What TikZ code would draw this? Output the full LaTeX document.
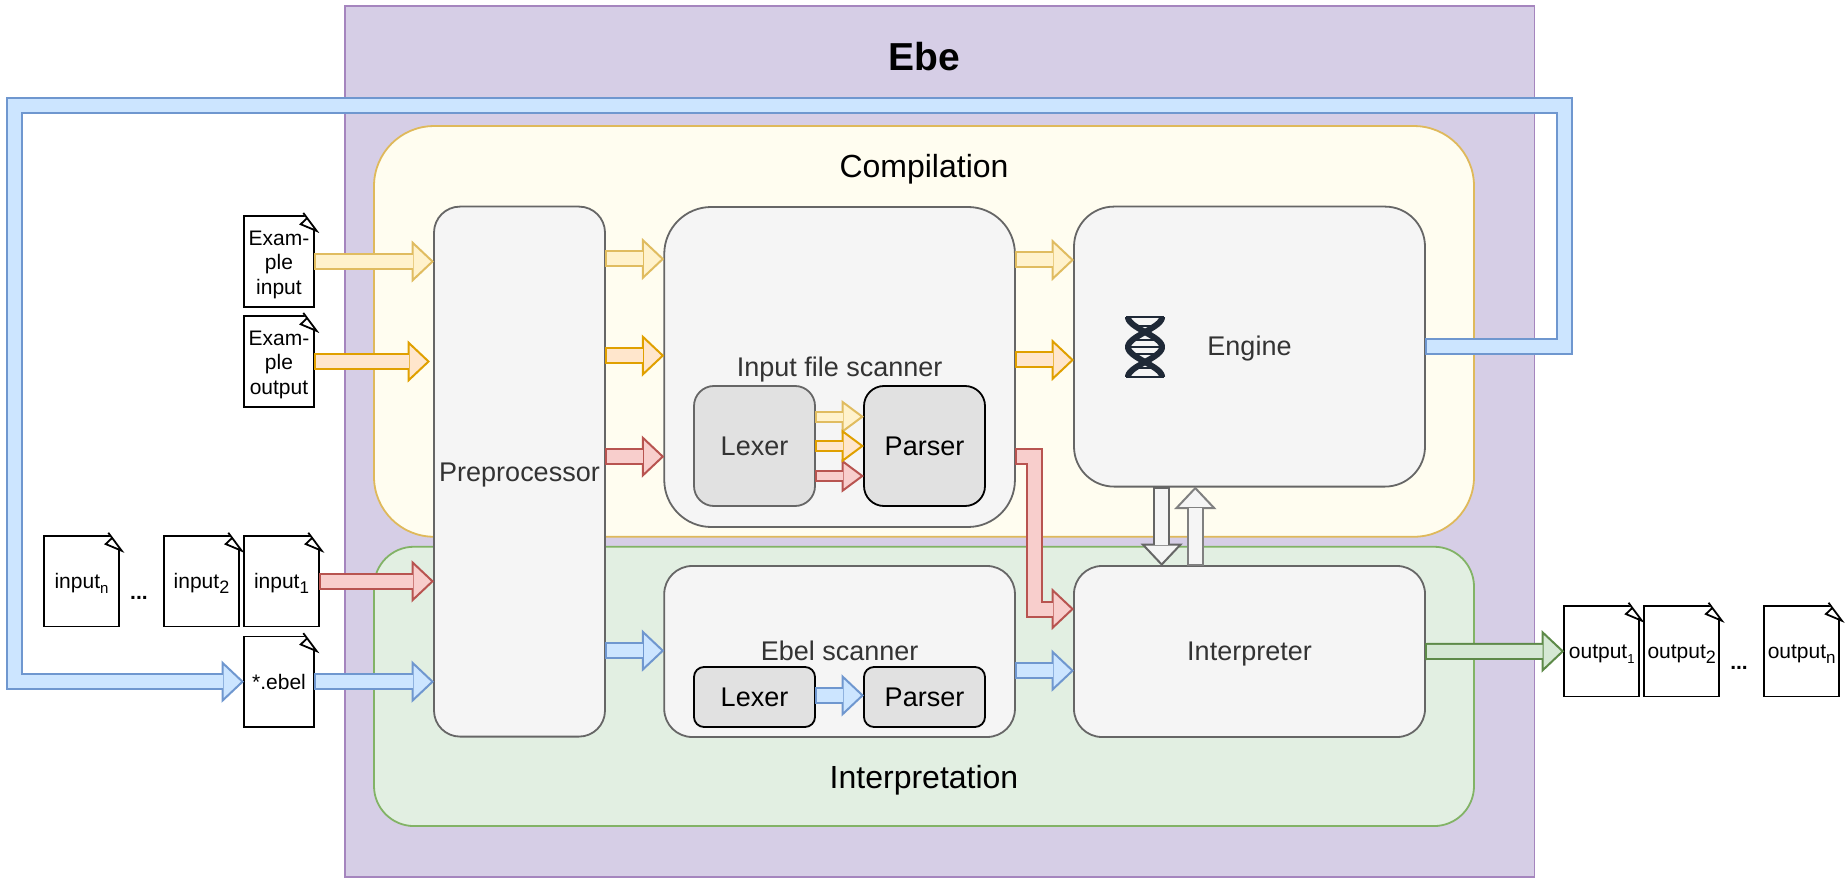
\documentclass[tikz,border=0pt]{standalone}
\usepackage{fontspec}
\setmainfont{Liberation Sans}
\usetikzlibrary{arrows.meta,calc}
\definecolor{fEbe}{HTML}{D6CEE6}
\definecolor{sEbe}{HTML}{A585BE}
\definecolor{fCom}{HTML}{FFFDF0}
\definecolor{sCom}{HTML}{DFB95B}
\definecolor{fInt}{HTML}{E2EFE2}
\definecolor{sInt}{HTML}{82B366}
\definecolor{fBox}{HTML}{F5F5F5}
\definecolor{sBox}{HTML}{666666}
\definecolor{fLex}{HTML}{E1E1E1}
\definecolor{fYel}{HTML}{FFF2CC}
\definecolor{sYel}{HTML}{E0BC60}
\definecolor{fOra}{HTML}{FFE6CC}
\definecolor{sOra}{HTML}{E0A000}
\definecolor{fRed}{HTML}{F8CECC}
\definecolor{sRed}{HTML}{B85450}
\definecolor{fBlu}{HTML}{CCE5FF}
\definecolor{sBlu}{HTML}{6F97CF}
\definecolor{fGre}{HTML}{D5E8D4}
\definecolor{sGre}{HTML}{5D8A48}
\definecolor{cDna}{HTML}{1F2937}
\newcommand{\subtxt}[2]{\smash{\raisebox{-5pt}{\fontsize{#1}{#1}\selectfont #2}}}
\tikzset{
	area/.style={draw, rectangle, line width=1.8pt, inner sep=0pt, outer sep=0pt},
	box/.style={area, draw=sBox, fill=fBox, text=black!80, text height=24pt, text depth=5.2pt, font=\fontsize{27}{32}\selectfont},
	lexbox/.style={box, fill=fLex},
	parsebox/.style={lexbox, draw=black, text=black},
	title/.style={text height=29pt, text depth=6.8pt, inner sep=0pt, font=\fontsize{32}{38}\selectfont},
	ebelabel/.style={inner sep=0pt, font=\fontsize{39}{44}\selectfont\bfseries},
	doc/.style={area, draw=black, fill=white, minimum height=90.5pt, align=center, font=\fontsize{21}{24.2}\selectfont,
		execute at begin node=\rule{0pt}{20pt}, execute at end node=\rule[-5pt]{0pt}{5pt}},
	dots/.style={anchor=base, inner sep=0pt, font=\fontsize{21}{25}\selectfont\bfseries},
	flow/.style 2 args={draw=#2, line width=17pt, -{Triangle[length=22.5pt,width=42pt,line width=2pt,fill=#1]},
		postaction={draw=#1, line width=13pt, -, shorten <=2pt, shorten >=21.5pt}},
	smallflow/.style 2 args={draw=#2, line width=12pt, -{Triangle[length=22.5pt,width=33pt,line width=2pt,fill=#1]},
		postaction={draw=#1, line width=8pt, -, shorten <=2pt, shorten >=21.5pt}},
	fold/.style={draw=black, fill=white, line width=1.8pt}
}
\begin{document}
\begin{tikzpicture}[x=1pt,y=-1pt]
	\useasboundingbox (0,0) rectangle (1845,882);
	% Vung lon
	\node[area, draw=sEbe, fill=fEbe, minimum width=1189.6pt, minimum height=870.6pt] (ebe) at (939.6,441.3) {};
	\node[area, draw=sCom, fill=fCom, minimum width=1100pt, minimum height=410.7pt, rounded corners=60pt] (compile) at (924,331.4) {};
	\node[area, draw=sInt, fill=fInt, minimum width=1100pt, minimum height=279.3pt, rounded corners=40pt] (interpret) at (924,686.4) {};
	\node[ebelabel] (ebetitle) at (924,57) {Ebe};
	\node[title] (comptitle) at (924,166) {Compilation};
	\node[title] (inttitle) at (924,777) {Interpretation};
	% Cac khoi
	\node[box, minimum width=171pt, minimum height=530pt, rounded corners=26pt] (prep) at (519.5,471.6) {Preprocessor};
	\node[box, minimum width=350.7pt, minimum height=320pt, rounded corners=47pt] (ifs) at (839.6,367) {Input file scanner};
	\node[lexbox, minimum width=121pt, minimum height=120pt, rounded corners=20pt] (lexa) at (754.5,446) {Lexer};
	\node[parsebox, minimum width=121pt, minimum height=120pt, rounded corners=20pt] (parsa) at (924.5,446) {Parser};
	\node[box, minimum width=351pt, minimum height=280pt, rounded corners=40pt] (engine) at (1249.5,346.6) {Engine};
	\node[box, minimum width=350.7pt, minimum height=171pt, rounded corners=28pt] (ebel) at (839.6,651.5) {Ebel scanner};
	\node[parsebox, minimum width=121pt, minimum height=60pt, rounded corners=10pt] (lexb) at (754.5,697) {Lexer};
	\node[parsebox, minimum width=121pt, minimum height=60pt, rounded corners=10pt] (parsb) at (924.5,697) {Parser};
	\node[box, minimum width=351pt, minimum height=171pt, rounded corners=28pt] (interp) at (1249.5,651.5) {Interpreter};
	% Tai lieu
	\node[doc, minimum width=70pt] (docin) at (279,261.5) {\rule{0pt}{22pt}Exam-\\ple\\input};
	\node[doc, minimum width=70pt] (docout) at (279,361.5) {\rule{0pt}{22pt}Exam-\\ple\\output};
	\node[doc, minimum width=70pt] (docebel) at (279,681.7) {*.ebel};
	\node[doc, minimum width=75pt] (inputa) at (281.5,581.3) {input\subtxt{17}{1}};
	\node[doc, minimum width=75pt] (inputb) at (201.5,581.3) {input\subtxt{18}{2}};
	\node[doc, minimum width=75pt] (inputn) at (81.5,581.3) {input\subtxt{15}{n}};
	\node[doc, minimum width=75pt] (outputa) at (1601.7,651.3) {output\subtxt{13}{1}};
	\node[doc, minimum width=75pt] (outputb) at (1681.7,651.3) {output\subtxt{18}{2}};
	\node[doc, minimum width=75pt] (outputn) at (1801.7,651.3) {output\subtxt{17}{n}};
	\node[dots] (dotsin) at (139,599) {...};
	\node[dots] (dotsout) at (1739,669) {...};
	\foreach \d in {docin,docout,docebel,inputa,inputb,inputn,outputa,outputb,outputn}
	{
		\fill[white,shift={(\d.north east)}] (-10.7,-2)--(2,-2)--(2,15)--cycle;
		\draw[fold,shift={(\d.north east)}] (-7.3,2.3)--(-13.3,8)--(2.7,14.7)--(-10.7,-3.3);
	}
	% Hinh xoan
	\draw[cDna, line width=6pt, domain=-30:30, samples=80] plot ({1145+17*cos(\x*6)}, 347+\x);
	\draw[cDna, line width=6pt, domain=-30:30, samples=80] plot ({1145-17*cos(\x*6)}, 347+\x);
	\foreach \y/\w in {317/19,326/7,340/12,347/18,354/12,368/7,377/19}
	\draw[cDna, line width=2.5pt] (1145-\w,\y)--(1145+\w,\y);
	% Mui ten vao
	\draw[flow={fYel}{sYel}] (docin.east) -- (docin.east -| prep.west);
	\draw[flow={fOra}{sOra}] (docout.east) -- ($(docout.east -| prep.west)+(-4,0)$);
	\draw[flow={fRed}{sRed}] (inputa.east) -- (inputa.east -| prep.west);
	\draw[flow={fBlu}{sBlu}] (docebel.east) -- (docebel.east -| prep.west);
	% Mui ten giua
	\foreach \y/\f/\s in {259/fYel/sYel,355.6/fOra/sOra,456.6/fRed/sRed}
	\draw[flow={\f}{\s}] (prep.east |- 0,\y) -- (ifs.west |- 0,\y);
	\draw[flow={fBlu}{sBlu}] (prep.east |- 0,650.7) -- (ebel.west |- 0,650.7);
	\draw[flow={fYel}{sYel}] (ifs.east |- 0,260) -- (engine.west |- 0,260);
	\draw[flow={fOra}{sOra}] (ifs.east |- 0,360) -- (engine.west |- 0,360);
	\draw[flow={fBlu}{sBlu}] (ebel.east |- 0,670.7) -- (interp.west |- 0,670.7);
	\draw[flow={fBlu}{sBlu}] (lexb.east |- 0,695.4) -- (parsb.west |- 0,695.4);
	\foreach \y/\f/\s in {416.7/fYel/sYel,476/fRed/sRed,446/fOra/sOra}
	\draw[smallflow={\f}{\s}] (lexa.east |- 0,\y) -- (parsa.west |- 0,\y);
	% Mui ten gap
	\coordinate (redbend) at (1034.6,609);
	\draw[flow={fRed}{sRed}] (ifs.east |- 0,456) -| (redbend) -- (redbend -| interp.west);
	\coordinate (dnx) at (1161.7,0);
	\coordinate (upx) at (1195.3,0);
	\draw[flow={fBox}{sBox}] (dnx |- engine.south) -- (dnx |- interp.north);
	\draw[flow={fBox}{black!50}] (upx |- interp.north) -- (upx |- engine.south);
	\draw[flow={fGre}{sGre}] (interp.east) -- (outputa.west);
	% Vong lai
	\coordinate (loopa) at (1564.7,106);
	\coordinate (loopb) at (14.5,681.7);
	\draw[flow={fBlu}{sBlu}] (engine.east) -| (loopa) -| (loopb) -- (docebel.west);
\end{tikzpicture}
\end{document}
